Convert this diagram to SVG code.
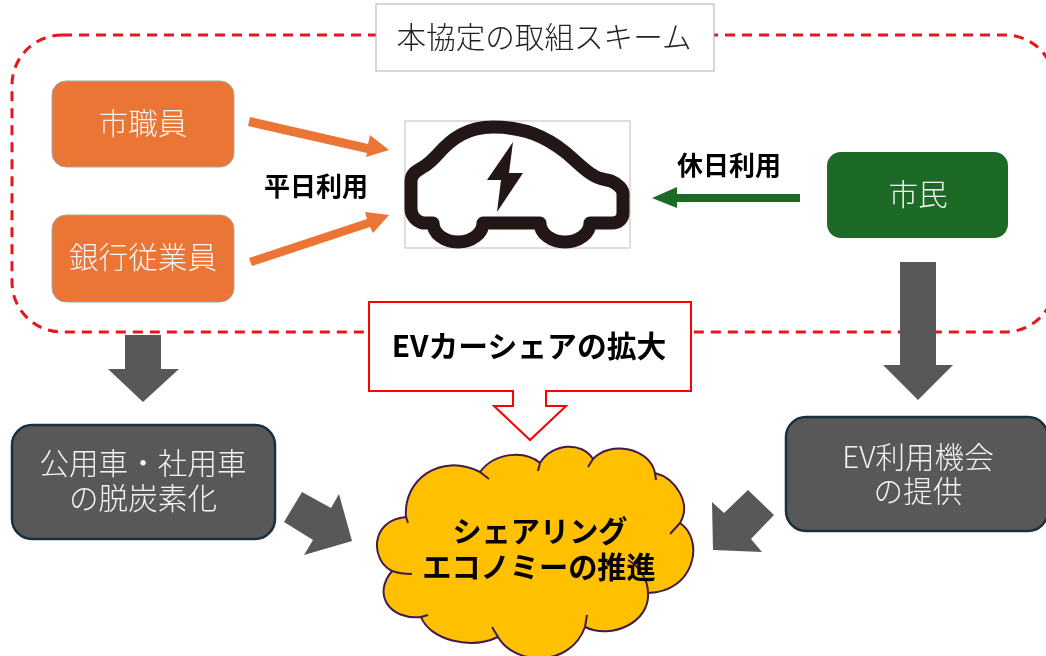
<svg xmlns="http://www.w3.org/2000/svg" width="1046" height="656" viewBox="0 0 1046 656">
<style>
text{font-family:"Noto Sans CJK JP","Noto Sans",sans-serif;text-anchor:middle;dominant-baseline:central}
.w{fill:#f2f2f2;font-size:29.6px;font-weight:300}
.b{fill:#000;font-weight:700}
.or{fill:#ea7434;stroke:#a5a5a5;stroke-width:1}
.gr{fill:#595959;stroke:#17303f;stroke-width:2.5}
.ga{fill:#595959}
</style>
<defs><filter id="soft" filterUnits="userSpaceOnUse" x="0" y="0" width="1046" height="656"><feGaussianBlur stdDeviation="0.45"/></filter></defs>
<rect width="1046" height="656" fill="#fff"/>
<g filter="url(#soft)">
<rect id="scheme-frame" x="12" y="35" width="1043" height="297" rx="50" fill="none" stroke="#e8141f" stroke-width="3" stroke-dasharray="10 7"/>
<g id="title"><rect x="376" y="4" width="338" height="67" fill="#fff" stroke="#b0b0b0" stroke-width="1"/><text x="544" y="35" font-size="29.6" fill="#222" font-weight="300">本協定の取組スキーム</text></g>
<g id="node-staff"><rect class="or" x="52" y="81" width="182" height="86" rx="14"/><text class="w" x="143" y="121">市職員</text></g>
<g id="node-bank"><rect class="or" x="52" y="215" width="182" height="87" rx="14"/><text class="w" x="143" y="255">銀行従業員</text></g>
<g id="node-citizen"><rect x="827" y="152" width="181" height="86" rx="14" fill="#1b6b25"/><text class="w" x="918" y="192">市民</text></g>
<g id="node-car">
<rect x="405" y="121" width="225" height="127" fill="#fff" stroke="#bdbdbd" stroke-width="1"/>
<path d="M411 181C411 173 418 170 423 167C430 163 434 158 438 154C452 138 468 127 493 127C525 127 546 137 565 152C575 160 585 171 593 175C598 179 604 179 611 181C618 184 623 189 623 194V213C623 219 618 223 612 223H590A25 19 0 0 1 540 223H483A25 19 0 0 1 433 223H423C417 222 411 216 411 209Z" fill="none" stroke="#231815" stroke-width="13" stroke-linejoin="round"/>
<polygon points="513,142 487,180 501,180 497,212 523,173 509,173" fill="#231815"/>
</g>
<g id="connectors">
<polygon fill="#ea7434" points="250,117 368,144 370,135 389,150 366,157 367,153 248,126"/>
<polygon fill="#ea7434" points="249,258 367,219 365,212 389,215 373,233 370,227 252,266"/>
<polygon fill="#1b6b25" points="800,194 677,194 677,187 652,198 677,208 677,202 800,202"/>
<polygon class="ga" points="125,335 161,335 161,369 179,369 143,402 108,369 125,369"/>
<polygon class="ga" points="900,262 936,262 936,365 953,365 918,400 883,365 900,365"/>
<polygon class="ga" points="302,492 331,508 339,494 352,541 304,555 313,540 284,522"/>
<polygon class="ga" points="748,490 774,515 751,539 762,552 713,550 712,502 724,513"/>
</g>
<text class="b" x="316" y="184" font-size="26">平日利用</text>
<text class="b" x="729" y="163" font-size="26">休日利用</text>
<g id="callout"><polygon points="369,302 691,302 691,391 546,391 546,406 566,406 530,440 494,406 513,406 513,391 369,391" fill="#fff" stroke="#ff0000" stroke-width="2"/><text class="b" x="529" y="344" font-size="29.8">EVカーシェアの拡大</text></g>
<g id="node-decarb"><rect class="gr" x="12" y="425" width="263" height="114" rx="20"/><text class="w" x="143" y="461">公用車・社用車</text><text class="w" x="143" y="496">の脱炭素化</text></g>
<g id="node-opportunity"><rect class="gr" x="786" y="417" width="262" height="114" rx="20"/><text class="w" x="918" y="455">EV利用機会</text><text class="w" x="918" y="489">の提供</text></g>
<g id="node-cloud">
<path d="M406 517C403 480 440 452 480 472C495 452 525 450 540 463C552 443 582 441 593 459C610 440 650 448 655 473C675 478 692 503 680 523C705 540 695 592 648 593C650 622 612 640 585 627C570 668 515 666 498 637C470 650 430 640 421 617C390 620 372 595 392 571C370 560 370 520 406 517Z" fill="#ffc000" stroke="#3f1a4f" stroke-width="2"/>
<path d="M480 472L489 479M540 463L538 471M593 459L588 467M655 473L656 480M680 523L670 534M648 593C648 580 640 567 628 560M585 627L587 615M498 637L492 627M421 617L428 615M392 571Q400 574 412 574M406 517L408 523" fill="none" stroke="#3f1a4f" stroke-width="2"/>
<text class="b" x="540" y="529" font-size="29.2">シェアリング</text><text class="b" x="539" y="565" font-size="29.2">エコノミーの推進</text>
</g>
</g>
</svg>
